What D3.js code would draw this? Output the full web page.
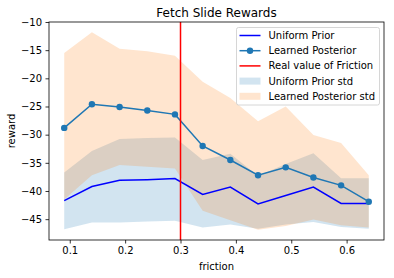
<!DOCTYPE html>
<html>
<head>
<meta charset="utf-8">
<script src="https://cdn.jsdelivr.net/npm/d3@7"></script>
<style>
body { margin: 0; background: #fff; }
text { font-family: "DejaVu Sans", sans-serif; fill: #000; }
</style>
</head>
<body>
<div id="chart"></div>
<script>
const width = 394
const height = 278
const margin = {top: 22, bottom: 38, left: 49, right: 10}

// data
const friction = [0.09, 0.14, 0.19, 0.24, 0.29, 0.34, 0.39, 0.44, 0.49, 0.54, 0.59, 0.64]
const uniformPrior = [-41.7, -39.2, -38.1, -38.0, -37.8, -40.6, -39.3, -42.3, -40.8, -39.3, -42.2, -42.2]
const uniformUpper = [-36.7, -32.9, -30.75, -30.6, -30.5, -34.5, -33.4, -37.35, -35.2, -33.3, -37.75, -37.75]
const uniformLower = [-46.8, -45.6, -45.6, -45.4, -45.3, -46.5, -45.95, -46.7, -45.95, -45.5, -46.4, -46.7]
const learnedPosterior = [-28.8, -24.6, -25.1, -25.7, -26.4, -32.0, -34.5, -37.2, -35.8, -37.6, -39.0, -41.9]
const learnedUpper = [-15.5, -11.8, -14.75, -15.2, -16.0, -20.6, -23.5, -27.6, -25.0, -30.05, -31.5, -37.2]
const learnedLower = [-41.5, -37.2, -35.4, -35.7, -36.0, -43.5, -45.2, -46.9, -46.2, -45.05, -46.1, -46.5]
const realFriction = 0.3
const xTicks = [0.1, 0.2, 0.3, 0.4, 0.5, 0.6]
const yTicks = [-45, -40, -35, -30, -25, -20, -15, -10]

const innerW = width - margin.left - margin.right
const innerH = height - margin.top - margin.bottom

const svg = d3.select("div#chart").append("svg").attr("width", width).attr("height", height)
const elementGroup = svg.append("g").attr("id", "elementGroup").attr("transform", `translate(${margin.left}, ${margin.top})`)

const x = d3.scaleLinear().domain([0.0625, 0.6675]).range([0, innerW])
const y = d3.scaleLinear().domain([-48.7, -10]).range([innerH, 0])

const idx = d3.range(friction.length)

const area = (lo, hi) => d3.area().x(i => x(friction[i])).y0(i => y(lo[i])).y1(i => y(hi[i]))
const line = vals => d3.line().x(i => x(friction[i])).y(i => y(vals[i]))

elementGroup.append("path").attr("d", area(uniformLower, uniformUpper)(idx))
    .attr("fill", "rgba(31,119,180,0.2)")
elementGroup.append("path").attr("d", area(learnedLower, learnedUpper)(idx))
    .attr("fill", "rgba(255,127,14,0.2)")

elementGroup.append("path").attr("d", line(uniformPrior)(idx))
    .attr("fill", "none").attr("stroke", "#0000ff").attr("stroke-width", 1.5)
elementGroup.append("path").attr("d", line(learnedPosterior)(idx))
    .attr("fill", "none").attr("stroke", "#1f77b4").attr("stroke-width", 1.5)
elementGroup.selectAll("circle.lp").data(idx).enter().append("circle")
    .attr("class", "lp")
    .attr("cx", i => x(friction[i]))
    .attr("cy", i => y(learnedPosterior[i]))
    .attr("r", 3.2)
    .attr("fill", "#1f77b4")

elementGroup.append("line")
    .attr("x1", x(realFriction)).attr("x2", x(realFriction))
    .attr("y1", 0).attr("y2", innerH)
    .attr("stroke", "#ff0000").attr("stroke-width", 1.5)

// axes
const xAxis = d3.axisBottom(x).tickValues(xTicks).tickFormat(d3.format(".1f")).tickSizeOuter(0).tickSize(3.5).tickPadding(3.5)
const yAxis = d3.axisLeft(y).tickValues(yTicks).tickFormat(d => d3.format("d")(d).replace("-", "\u2212")).tickSizeOuter(0).tickSize(3.5).tickPadding(3.5)

const xAxisGroup = elementGroup.append("g").attr("transform", `translate(0, ${innerH})`).call(xAxis)
const yAxisGroup = elementGroup.append("g").call(yAxis)
for (const g of [xAxisGroup, yAxisGroup]) {
    g.select(".domain").remove()
    g.selectAll("line").attr("stroke", "#000").attr("stroke-width", 0.8)
    g.selectAll("text").attr("font-size", 10).attr("font-family", "DejaVu Sans").attr("fill", "#000")
}

elementGroup.append("rect").attr("x", 0).attr("y", 0).attr("width", innerW).attr("height", innerH)
    .attr("fill", "none").attr("stroke", "#000").attr("stroke-width", 0.8)

// labels
svg.append("text").text("Fetch Slide Rewards")
    .attr("x", margin.left + innerW / 2).attr("y", 17)
    .attr("text-anchor", "middle").attr("font-size", 12)
svg.append("text").text("friction")
    .attr("x", margin.left + innerW / 2).attr("y", 270)
    .attr("text-anchor", "middle").attr("font-size", 10)
svg.append("text").text("reward")
    .attr("transform", `translate(15, ${margin.top + innerH / 2}) rotate(-90)`)
    .attr("text-anchor", "middle").attr("font-size", 10)

// legend
const legend = svg.append("g").attr("transform", "translate(236.5, 27.5)")
legend.append("rect").attr("width", 143).attr("height", 77.5).attr("rx", 2)
    .attr("fill", "rgba(255,255,255,0.8)").attr("stroke", "#cccccc").attr("stroke-width", 0.8)

const legendItems = [
    {label: "Uniform Prior", kind: "line", color: "#0000ff"},
    {label: "Learned Posterior", kind: "marker", color: "#1f77b4"},
    {label: "Real value of Friction", kind: "line", color: "#ff0000"},
    {label: "Uniform Prior std", kind: "patch", color: "rgba(31,119,180,0.2)"},
    {label: "Learned Posterior std", kind: "patch", color: "rgba(255,127,14,0.2)"}
]
legendItems.forEach((d, i) => {
    const g = legend.append("g").attr("transform", `translate(0, ${8 + i * 15.2})`)
    if (d.kind === "patch") {
        g.append("rect").attr("x", 3).attr("y", -3.5).attr("width", 21).attr("height", 7).attr("fill", d.color)
    } else {
        g.append("line").attr("x1", 3).attr("x2", 24).attr("y1", 0).attr("y2", 0)
            .attr("stroke", d.color).attr("stroke-width", 1.5)
        if (d.kind === "marker") g.append("circle").attr("cx", 13.5).attr("cy", 0).attr("r", 3.2).attr("fill", d.color)
    }
    g.append("text").text(d.label).attr("x", 32).attr("y", 0).attr("dy", "0.35em").attr("font-size", 10)
})
</script>
</body>
</html>
